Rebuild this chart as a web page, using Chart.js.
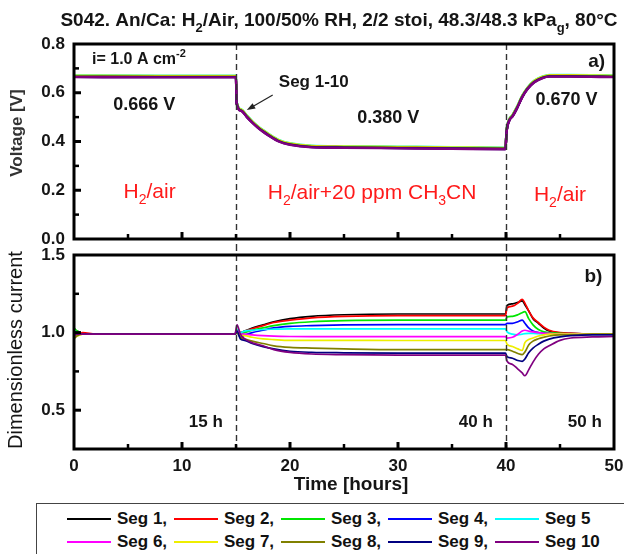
<!DOCTYPE html>
<html>
<head>
<meta charset="utf-8">
<script src="https://cdn.jsdelivr.net/npm/chart.js@4.4.1/dist/chart.umd.min.js"></script>
<style>
  body { margin: 0; background: #fff; width: 624px; height: 554px; overflow: hidden; position: relative; }
  canvas { position: absolute; left: 0; }
  #topChart { top: 0; }
  #botChart { top: 245px; }
  #legend {
    position: absolute; left: 36px; top: 503px; width: 620px; height: 70px;
    border: 1.5px solid #444; background: #fff;
    font: bold 17px "Liberation Sans", Arial, sans-serif; color: #111;
  }
  .item { position: absolute; display: flex; align-items: center; height: 20px; }
  .item span.ln { display: inline-block; width: 44px; height: 2px; margin-right: 6px; }
</style>
</head>
<body>
<canvas id="topChart" width="624" height="245"></canvas>
<canvas id="botChart" width="624" height="258"></canvas>
<div id="legend"></div>
<script>
// Segments
const segNames = ["Seg 1", "Seg 2", "Seg 3", "Seg 4", "Seg 5", "Seg 6", "Seg 7", "Seg 8", "Seg 9", "Seg 10"];
const segColors = ["#000000", "#ff0000", "#00e600", "#0000ff", "#00ffff", "#ff00ff", "#eeee00", "#808000", "#000080", "#800080"];

// Panel a) cell voltage (all segments nearly on top of each other)
const hoursV = [0, 8, 15, 15.05, 15.5, 16, 16.5, 17, 17.5, 18, 19, 20, 22, 25, 30, 35, 39.95,
  40.05, 40.3, 40.6, 41, 41.5, 42, 42.6, 43.4, 44, 46, 50];
const voltage = [0.667, 0.666, 0.666, 0.56, 0.528, 0.503, 0.48, 0.46, 0.443, 0.428, 0.402, 0.389, 0.379, 0.377, 0.375, 0.373, 0.371,
  0.44, 0.488, 0.505, 0.537, 0.584, 0.618, 0.645, 0.663, 0.669, 0.669, 0.667];
const voltShift = [0.001, 0.0, 0.002, 0.001, 0.004, 0.0, 0.003, 0.0, -0.002, -0.003];

// Panel b) dimensionless current per segment
const hoursI = [0, 0.3, 0.8, 2, 8, 14.9, 15.1, 15.4, 15.8, 16.5, 17.5, 18.5, 20, 22, 25, 30, 35, 39.95,
  40.1, 40.6, 41.1, 41.5, 41.75, 42.1, 42.5, 43, 43.5, 44, 45, 46, 48, 50];
const seg1 = [1.00, 1.01, 0.99, 0.99, 0.99, 0.99, 1.02, 1.00, 1.01, 1.03, 1.05, 1.07, 1.09, 1.105, 1.115, 1.12, 1.12, 1.12,
  1.175, 1.185, 1.195, 1.205, 1.18, 1.14, 1.09, 1.06, 1.03, 1.01, 0.998, 0.995, 0.99, 0.99];
const seg2 = [1.00, 0.99, 1.00, 0.99, 0.99, 0.99, 1.02, 1.00, 1.01, 1.025, 1.045, 1.065, 1.08, 1.095, 1.105, 1.11, 1.11, 1.11,
  1.16, 1.17, 1.19, 1.215, 1.19, 1.14, 1.095, 1.065, 1.035, 1.015, 1.0, 0.995, 0.99, 0.99];
const seg3 = [1.03, 1.01, 0.99, 0.99, 0.99, 0.99, 1.00, 0.99, 1.00, 1.015, 1.03, 1.045, 1.06, 1.07, 1.077, 1.08, 1.08, 1.08,
  1.10, 1.105, 1.115, 1.128, 1.135, 1.09, 1.05, 1.02, 1.005, 1.0, 0.995, 0.99, 0.99, 0.99];
const seg4 = [1.00, 0.99, 0.99, 0.99, 0.99, 0.99, 1.00, 0.97, 0.985, 1.0, 1.015, 1.03, 1.04, 1.045, 1.05, 1.052, 1.052, 1.052,
  1.06, 1.06, 1.07, 1.08, 1.06, 1.03, 1.01, 1.0, 0.995, 0.99, 0.99, 0.99, 0.99, 0.99];
const seg5 = [1.01, 1.0, 0.99, 0.99, 0.99, 0.99, 1.02, 1.00, 1.01, 1.015, 1.02, 1.022, 1.024, 1.024, 1.024, 1.024, 1.024, 1.024,
  1.005, 0.99, 0.985, 0.99, 0.993, 0.995, 0.995, 0.993, 0.99, 0.99, 0.99, 0.99, 0.99, 0.99];
const seg6 = [0.99, 1.0, 0.99, 0.99, 0.99, 0.99, 1.01, 0.99, 0.99, 0.985, 0.98, 0.977, 0.975, 0.974, 0.974, 0.974, 0.974, 0.974,
  0.965, 0.97, 0.99, 1.01, 1.015, 1.01, 1.005, 1.0, 0.995, 0.995, 0.99, 0.99, 0.99, 0.99];
const seg7 = [1.0, 0.98, 0.99, 0.99, 0.99, 0.99, 1.0, 0.98, 0.98, 0.97, 0.96, 0.955, 0.95, 0.95, 0.95, 0.949, 0.949, 0.949,
  0.925, 0.91, 0.895, 0.885, 0.935, 0.955, 0.965, 0.978, 0.985, 0.99, 0.99, 0.99, 0.99, 0.99];
const seg8 = [0.96, 0.98, 0.99, 0.99, 0.99, 0.99, 1.0, 0.97, 0.96, 0.945, 0.93, 0.915, 0.905, 0.9, 0.895, 0.89, 0.89, 0.89,
  0.89, 0.88, 0.865, 0.858, 0.875, 0.92, 0.945, 0.96, 0.97, 0.978, 0.985, 0.985, 0.99, 0.99];
const seg9 = [1.0, 0.99, 0.99, 0.99, 0.99, 0.99, 1.01, 0.96, 0.95, 0.93, 0.91, 0.895, 0.88, 0.873, 0.87, 0.868, 0.868, 0.868,
  0.845, 0.835, 0.82, 0.815, 0.83, 0.87, 0.9, 0.925, 0.945, 0.958, 0.972, 0.98, 0.985, 0.985];
const seg10 = [0.98, 0.99, 0.99, 0.99, 0.99, 0.99, 1.05, 0.99, 0.96, 0.935, 0.915, 0.89, 0.872, 0.862, 0.858, 0.855, 0.855, 0.855,
  0.815, 0.795, 0.765, 0.74, 0.722, 0.76, 0.81, 0.86, 0.895, 0.915, 0.95, 0.965, 0.972, 0.975];
const currents = [seg1, seg2, seg3, seg4, seg5, seg6, seg7, seg8, seg9, seg10];

// Event markers (gas switch) in hours
const switchHours = [15, 40];

const FONT = "'Liberation Sans', Arial, sans-serif";
const INK = "#151515";
const RED = "#ff1a1a";
Chart.defaults.font.family = FONT;

// text with sub/superscripts: parts = [[text, 0 normal | -1 sub | 1 sup], ...]
function richText(ctx, parts, x, y, size, weight, color, align) {
  const fontFor = (m) => weight + " " + (m === 0 ? size : Math.round(size * 0.66)) + "px " + FONT;
  let total = 0;
  parts.forEach(([t, m]) => { ctx.font = fontFor(m); total += ctx.measureText(t).width; });
  let cx = align === "left" ? x : x - total / 2;
  ctx.fillStyle = color;
  ctx.textBaseline = "middle";
  ctx.textAlign = "left";
  parts.forEach(([t, m]) => {
    ctx.font = fontFor(m);
    const dy = m === -1 ? size * 0.38 : m === 1 ? -size * 0.38 : 0;
    ctx.fillText(t, cx, y + dy);
    cx += ctx.measureText(t).width;
  });
}

// frame, inward ticks, dashed switch lines, notes
const decorPlugin = {
  id: "decor",
  afterDatasetsDraw(chart, args, opts) {
    const { ctx, chartArea: a, scales: { x, y } } = chart;
    ctx.save();
    // dashed vertical lines
    ctx.strokeStyle = "#333";
    ctx.lineWidth = 1.4;
    ctx.setLineDash([6, 4]);
    switchHours.forEach(h => {
      const px = Math.round(x.getPixelForValue(h)) + 0.5;
      ctx.beginPath();
      ctx.moveTo(px, opts.dashTop);
      ctx.lineTo(px, opts.dashBottom);
      ctx.stroke();
    });
    ctx.setLineDash([]);
    // frame
    ctx.strokeStyle = "#000";
    ctx.lineWidth = 3;
    ctx.strokeRect(a.left, a.top, a.right - a.left, a.bottom - a.top);
    // x ticks every 5 h, major every 10 h
    for (let h = 5; h < 50; h += 5) {
      const px = x.getPixelForValue(h);
      const major = h % 10 === 0;
      ctx.lineWidth = major ? 3 : 2.5;
      ctx.beginPath();
      ctx.moveTo(px, a.bottom);
      ctx.lineTo(px, a.bottom - (major ? 7 : 5));
      ctx.stroke();
    }
    // y ticks
    for (let k = 1; k < opts.yCount; k++) {
      const v = opts.yStart + k * opts.yStep;
      const py = y.getPixelForValue(v);
      const major = k % 2 === opts.yMajorRem;
      ctx.lineWidth = major ? 3 : 2.5;
      ctx.beginPath();
      ctx.moveTo(a.left, py);
      ctx.lineTo(a.left + (major ? 7 : 5), py);
      ctx.stroke();
    }
    // notes
    opts.notes.forEach(n => {
      richText(ctx, n.parts, x.getPixelForValue(n.x), y.getPixelForValue(n.y), n.size,
        n.weight || "bold", n.color || INK, n.align || "center");
    });
    // arrow
    if (opts.arrow) {
      const [h1, v1, h2, v2] = opts.arrow;
      const x1 = x.getPixelForValue(h1), y1 = y.getPixelForValue(v1);
      const x2 = x.getPixelForValue(h2), y2 = y.getPixelForValue(v2);
      const ang = Math.atan2(y2 - y1, x2 - x1);
      ctx.strokeStyle = "#222";
      ctx.fillStyle = "#222";
      ctx.lineWidth = 1.2;
      ctx.beginPath();
      ctx.moveTo(x1, y1);
      ctx.lineTo(x2 - 6 * Math.cos(ang), y2 - 6 * Math.sin(ang));
      ctx.stroke();
      ctx.beginPath();
      ctx.moveTo(x2, y2);
      ctx.lineTo(x2 - 9 * Math.cos(ang - 0.35), y2 - 9 * Math.sin(ang - 0.35));
      ctx.lineTo(x2 - 9 * Math.cos(ang + 0.35), y2 - 9 * Math.sin(ang + 0.35));
      ctx.closePath();
      ctx.fill();
    }
    // free texts in canvas pixels (title, axis titles)
    opts.labels.forEach(l => {
      ctx.save();
      ctx.translate(l.px, l.py);
      if (l.rotate) ctx.rotate(-Math.PI / 2);
      richText(ctx, l.parts, 0, 0, l.size, l.weight, l.color || INK, "center");
      ctx.restore();
    });
    ctx.restore();
  }
};

const tickFont = { family: FONT, size: 17, weight: "bold" };
// keep tick labels from pushing the plot area around
const noOverhang = s => { s.paddingTop = 0; s.paddingBottom = 0; s.paddingLeft = 0; s.paddingRight = 0; };

// Panel a)
new Chart(document.getElementById("topChart"), {
  type: "line",
  data: {
    datasets: segNames.map((name, i) => ({
      label: name,
      data: hoursV.map((h, k) => ({ x: h, y: voltage[k] + voltShift[i] })),
      borderColor: segColors[i],
      borderWidth: 2.4,
      pointRadius: 0,
      cubicInterpolationMode: "monotone",
      order: 9 - i,
    })),
  },
  options: {
    responsive: false,
    animation: false,
    layout: { padding: { top: 44, right: 10, bottom: 6, left: 0 } },
    scales: {
      x: { type: "linear", min: 0, max: 50, display: false },
      y: {
        min: 0, max: 0.8,
        grid: { display: false, drawTicks: false },
        border: { display: false },
        ticks: { stepSize: 0.2, font: tickFont, color: INK, padding: 9, callback: v => v.toFixed(1) },
        afterFit: s => { s.width = 74; noOverhang(s); },
      },
    },
    plugins: {
      legend: { display: false },
      tooltip: { enabled: false },
      decor: {
        dashTop: 44, dashBottom: 245,
        yStart: 0, yStep: 0.1, yCount: 8, yMajorRem: 0,
        notes: [
          { parts: [["i= 1.0 A cm", 0], ["-2", 1]], x: 1.67, y: 0.734, size: 16, align: "left" },
          { parts: [["0.666 V", 0]], x: 6.5, y: 0.55, size: 18 },
          { parts: [["Seg 1-10", 0]], x: 22.2, y: 0.641, size: 17 },
          { parts: [["0.380 V", 0]], x: 29.1, y: 0.496, size: 18 },
          { parts: [["0.670 V", 0]], x: 45.6, y: 0.570, size: 18 },
          { parts: [["a)", 0]], x: 48.4, y: 0.727, size: 19 },
          { parts: [["H", 0], ["2", -1], ["/air", 0]], x: 7.0, y: 0.193, size: 21, weight: "normal", color: RED },
          { parts: [["H", 0], ["2", -1], ["/air+20 ppm CH", 0], ["3", -1], ["CN", 0]], x: 27.6, y: 0.189, size: 21, weight: "normal", color: RED },
          { parts: [["H", 0], ["2", -1], ["/air", 0]], x: 45.0, y: 0.18, size: 21, weight: "normal", color: RED },
        ],
        arrow: [18.4, 0.591, 16.0, 0.529],
        labels: [
          { parts: [["S042. An/Ca: H", 0], ["2", -1], ["/Air, 100/50% RH, 2/2 stoi, 48.3/48.3 kPa", 0], ["g", -1], [", 80°C", 0]],
            px: 339, py: 21, size: 19, weight: "bold" },
          { parts: [["Voltage [V]", 0]], px: 17, py: 133, size: 17, weight: "bold", color: "#333", rotate: true },
        ],
      },
    },
  },
  plugins: [decorPlugin],
});

// Panel b)
new Chart(document.getElementById("botChart"), {
  type: "line",
  data: {
    datasets: segNames.map((name, i) => ({
      label: name,
      data: hoursI.map((h, k) => ({ x: h, y: currents[i][k] })),
      borderColor: segColors[i],
      borderWidth: 1.7,
      pointRadius: 0,
      cubicInterpolationMode: "monotone",
      order: 9 - i,
    })),
  },
  options: {
    responsive: false,
    animation: false,
    layout: { padding: { top: 10, right: 10, bottom: 0, left: 0 } },
    scales: {
      x: {
        type: "linear", min: 0, max: 50,
        grid: { display: false, drawTicks: false },
        border: { display: false },
        ticks: { stepSize: 10, font: tickFont, color: INK, padding: 7 },
        afterFit: s => { s.height = 54; noOverhang(s); },
      },
      y: {
        min: 0.25, max: 1.5,
        grid: { display: false, drawTicks: false },
        border: { display: false },
        ticks: { font: tickFont, color: INK, padding: 9, callback: v => v.toFixed(1) },
        afterBuildTicks: s => { s.ticks = [0.5, 1.0, 1.5].map(v => ({ value: v })); },
        afterFit: s => { s.width = 74; noOverhang(s); },
      },
    },
    plugins: {
      legend: { display: false },
      tooltip: { enabled: false },
      decor: {
        dashTop: 0, dashBottom: 204,
        yStart: 0.25, yStep: 0.25, yCount: 5, yMajorRem: 1,
        notes: [
          { parts: [["b)", 0]], x: 48.1, y: 1.361, size: 19 },
          { parts: [["15 h", 0]], x: 12.2, y: 0.425, size: 17 },
          { parts: [["40 h", 0]], x: 37.2, y: 0.425, size: 17 },
          { parts: [["50 h", 0]], x: 47.3, y: 0.425, size: 17 },
        ],
        labels: [
          { parts: [["Dimensionless current", 0]], px: 16, py: 105, size: 20, weight: "normal", rotate: true },
          { parts: [["Time [hours]", 0]], px: 351, py: 240, size: 19, weight: "bold" },
        ],
      },
    },
  },
  plugins: [decorPlugin],
});

// Legend box below the plots
const legend = document.getElementById("legend");
segNames.forEach((name, i) => {
  const item = document.createElement("div");
  item.className = "item";
  item.style.left = (30 + (i % 5) * 107) + "px";
  item.style.top = (i < 5 ? 5 : 28) + "px";
  item.innerHTML = '<span class="ln" style="background:' + segColors[i] + '"></span>' + name + (i === 9 || i === 4 ? "" : ",");
  legend.appendChild(item);
});
</script>
</body>
</html>
